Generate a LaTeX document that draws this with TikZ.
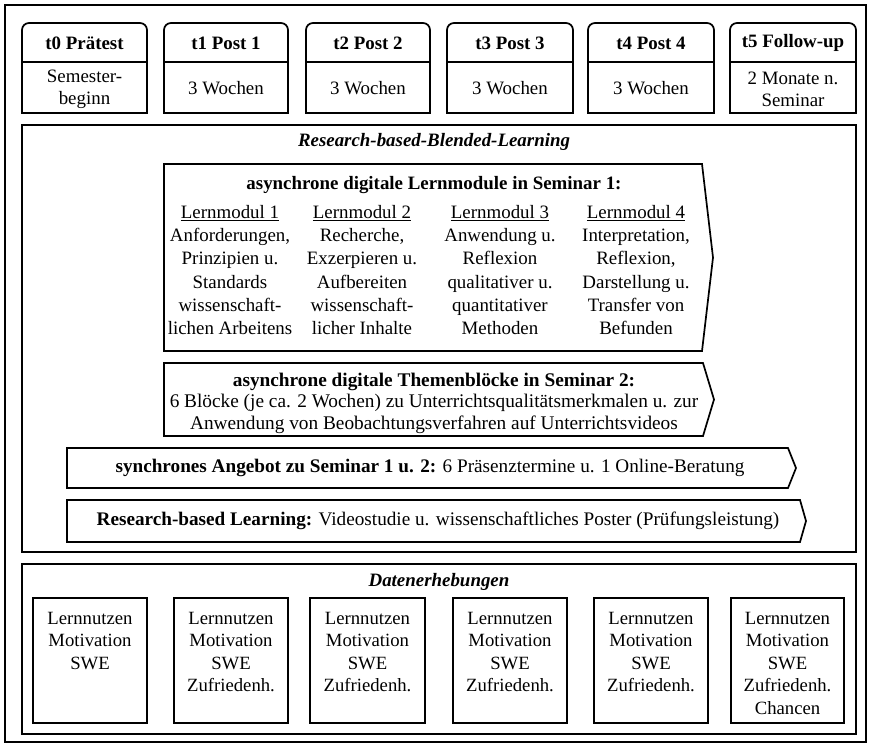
\documentclass[tikz,border=0pt]{standalone}
\usepackage{fontspec}
\setmainfont{Liberation Serif}
\begin{document}
\begin{tikzpicture}[x=1pt,y=-1pt,
  box/.style={draw=black,line width=1.7pt,line join=miter},
  txt/.style={inner sep=0pt,align=center,font=\fontsize{18.9}{23.3}\selectfont},
  hd/.style={txt,font=\fontsize{18.9}{22}\selectfont\bfseries},
  sb/.style={txt,font=\fontsize{18.9}{22}\selectfont},
  tt/.style={txt,font=\fontsize{18.9}{22}\selectfont\bfseries\itshape},
  dl/.style={txt,anchor=north,font=\fontsize{18.7}{22.5}\selectfont}]
\useasboundingbox (0,0) rectangle (869,745);
% outer frame
\draw[box] (5,5) rectangle (866,742);
% time-point headers
\foreach \xa/\xb in {22/147,164/288,306/430,447/573,588/714,730/856}{
  \draw[box,rounded corners=7pt] (\xa,23) rectangle (\xb,113);
  \draw[box,fill=white] (\xa,62) rectangle (\xb,113);
}
\node[hd] (h0) at (84.5,43) {t0 Prätest};
\node[hd] (h1) at (226,43) {t1 Post 1};
\node[hd] (h2) at (368,43) {t2 Post 2};
\node[hd] (h3) at (510,43) {t3 Post 3};
\node[hd] (h4) at (651,43) {t4 Post 4};
\node[hd] (h5) at (793,43) {t5 Follow-up};
\node[sb] (s0) at (84.5,89) {Semester-\\beginn};
\node[sb] (s1) at (226,88) {3 Wochen};
\node[sb] (s2) at (368,88) {3 Wochen};
\node[sb] (s3) at (510,88) {3 Wochen};
\node[sb] (s4) at (651,88) {3 Wochen};
\node[sb] (s5) at (793,89) {2 Monate n.\\Seminar};
% Research-based-Blended-Learning frame
\draw[box] (22,125) rectangle (856,552);
\node[tt] (rbbl) at (434,142) {Research-based-Blended-Learning};
% Lernmodule
\draw[box] (164,164) -- (702,164) -- (713,257.5) -- (702,351) -- (164,351) -- cycle;
\node[txt,font=\fontsize{18.9}{23.3}\selectfont\bfseries] (lmt) at (434,185) {asynchrone digitale Lernmodule in Seminar 1:};
\node[txt] (lm1) at (230,270) {\underline{Lernmodul 1}\\Anforderungen,\\Prinzipien u.\\Standards\\wissenschaft-\\lichen Arbeitens};
\node[txt] (lm2) at (362,270) {\underline{Lernmodul 2}\\Recherche,\\Exzerpieren u.\\Aufbereiten\\wissenschaft-\\licher Inhalte};
\node[txt] (lm3) at (500,270) {\underline{Lernmodul 3}\\Anwendung u.\\Reflexion\\qualitativer u.\\quantitativer\\Methoden};
\node[txt] (lm4) at (636,270) {\underline{Lernmodul 4}\\Interpretation,\\Reflexion,\\Darstellung u.\\Transfer von\\Befunden};
% Themenbloecke
\draw[box] (164,363) -- (703,363) -- (714,399.5) -- (703,436) -- (164,436) -- cycle;
\node[txt,font=\fontsize{19.3}{21.6}\selectfont] (tb) at (434,403) {\textbf{asynchrone digitale Themenblöcke in Seminar 2:}\\6 Blöcke (je ca. 2 Wochen) zu Unterrichtsqualitätsmerkmalen u. zur\\Anwendung von Beobachtungsverfahren auf Unterrichtsvideos};
% synchrones Angebot
\draw[box] (67,448) -- (788,448) -- (796,468) -- (788,488) -- (67,488) -- cycle;
\node[txt,font=\fontsize{19.2}{22}\selectfont] (sy) at (430,468) {\textbf{synchrones Angebot zu Seminar 1 u. 2:} 6 Präsenztermine u. 1 Online-Beratung};
% Research-based Learning
\draw[box] (67,500) -- (800,500) -- (806,521) -- (800,542) -- (67,542) -- cycle;
\node[txt,font=\fontsize{19.2}{22}\selectfont] (rbl) at (438,521) {\textbf{Research-based Learning:} Videostudie u. wissenschaftliches Poster (Prüfungsleistung)};
% Datenerhebungen
\draw[box] (22,564) rectangle (856,734);
\node[tt] (de) at (439,582) {Datenerhebungen};
\foreach \xa/\xb in {33/147,174/288,310/425,453/567,594/708,731/844}{
  \draw[box] (\xa,598) rectangle (\xb,723);
}
\node[dl] (d0) at (90,612) {Lernnutzen\\Motivation\\SWE};
\node[dl] (d1) at (231,612) {Lernnutzen\\Motivation\\SWE\\Zufriedenh.};
\node[dl] (d2) at (367.5,612) {Lernnutzen\\Motivation\\SWE\\Zufriedenh.};
\node[dl] (d3) at (510,612) {Lernnutzen\\Motivation\\SWE\\Zufriedenh.};
\node[dl] (d4) at (651,612) {Lernnutzen\\Motivation\\SWE\\Zufriedenh.};
\node[dl] (d5) at (787.5,612) {Lernnutzen\\Motivation\\SWE\\Zufriedenh.\\Chancen};
\end{tikzpicture}
\end{document}
